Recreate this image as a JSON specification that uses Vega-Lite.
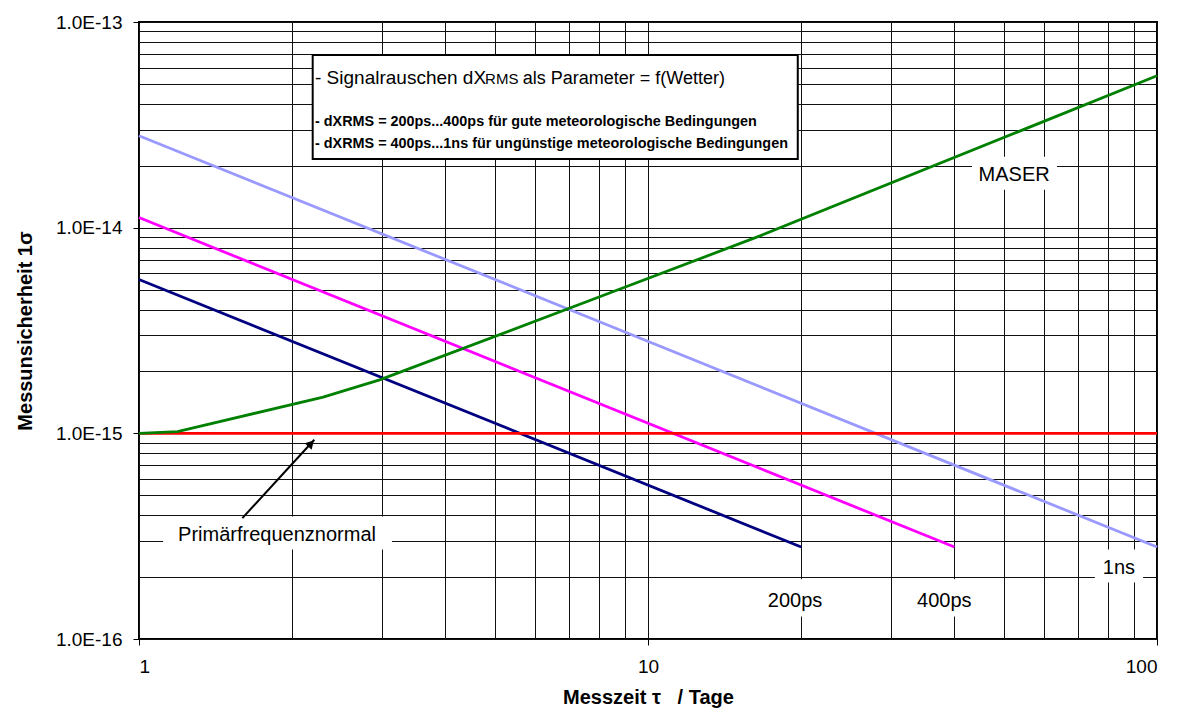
{
  "$schema": "https://vega.github.io/schema/vega-lite/v6.json",
  "width": 1018,
  "height": 617,
  "autosize": "none",
  "padding": {"left": 139, "top": 22, "right": 26, "bottom": 70},
  "background": "white",
  "config": {
    "font": "Liberation Sans",
    "view": {"stroke": "black", "strokeWidth": 2},
    "axis": {
      "grid": true,
      "gridColor": "#111111",
      "gridWidth": 1,
      "gridOpacity": 1,
      "domain": false,
      "tickColor": "black",
      "tickWidth": 1,
      "tickSize": 6,
      "labelFont": "Liberation Sans",
      "labelFontSize": 19,
      "labelColor": "black",
      "labelOverlap": false,
      "titleFont": "Liberation Sans",
      "titleFontSize": 20,
      "titleFontWeight": "bold",
      "titleColor": "black"
    }
  },
  "datasets": {
    "curves": [
      {"series": "200ps", "tau": 1, "sigma": 5.6e-15},
      {"series": "200ps", "tau": 20, "sigma": 2.8e-16},
      {"series": "400ps", "tau": 1, "sigma": 1.12e-14},
      {"series": "400ps", "tau": 40, "sigma": 2.8e-16},
      {"series": "1ns", "tau": 1, "sigma": 2.8e-14},
      {"series": "1ns", "tau": 100, "sigma": 2.8e-16},
      {"series": "Primärfrequenznormal", "tau": 1, "sigma": 1e-15},
      {"series": "Primärfrequenznormal", "tau": 100, "sigma": 1e-15},
      {"series": "MASER", "tau": 1, "sigma": 1e-15},
      {"series": "MASER", "tau": 1.19, "sigma": 1.02e-15},
      {"series": "MASER", "tau": 2.3, "sigma": 1.5e-15},
      {"series": "MASER", "tau": 2.97, "sigma": 1.82e-15},
      {"series": "MASER", "tau": 7.94, "sigma": 4.56e-15},
      {"series": "MASER", "tau": 16.6, "sigma": 9.12e-15},
      {"series": "MASER", "tau": 100, "sigma": 5.48e-14}
    ],
    "labelBg": [
      {"name": "Primärfrequenznormal", "tau": 1.115, "tau2": 3.14, "sigma": 2.72e-16, "sigma2": 3.94e-16},
      {"name": "MASER", "tau": 43.3, "tau2": 63.6, "sigma": 1.53e-14, "sigma2": 2.21e-14},
      {"name": "200ps", "tau": 16.6, "tau2": 22.8, "sigma": 1.285e-16, "sigma2": 1.95e-16},
      {"name": "400ps", "tau": 32.7, "tau2": 44.9, "sigma": 1.285e-16, "sigma2": 1.95e-16},
      {"name": "1ns", "tau": 75.5, "tau2": 93.9, "sigma": 1.88e-16, "sigma2": 2.72e-16}
    ],
    "box": [
      {"name": "legend", "tau": 2.194, "tau2": 19.69, "sigma": 2.159e-14, "sigma2": 6.916e-14}
    ],
    "labels": [
      {"text": "Primärfrequenznormal", "tau": 1.867, "sigma": 2.982e-16},
      {"text": "MASER", "tau": 52.4, "sigma": 1.688e-14},
      {"text": "200ps", "tau": 19.45, "sigma": 1.432e-16},
      {"text": "400ps", "tau": 38.2, "sigma": 1.432e-16},
      {"text": "1ns", "tau": 84.2, "sigma": 2.078e-16}
    ],
    "arrow": [
      {"i": 0, "tau": 1.596, "sigma": 3.87e-16},
      {"i": 1, "tau": 2.21, "sigma": 9.31e-16}
    ],
    "arrowHead": [
      {"tau": 2.177, "sigma": 8.93e-16}
    ]
  },
  "encoding": {
    "x": {
      "field": "tau",
      "type": "quantitative",
      "scale": {"type": "log", "domain": [1, 100], "nice": false},
      "axis": {
        "title": "Messzeit τ\u00a0\u00a0\u00a0/ Tage",
        "values": [1, 2, 3, 4, 5, 6, 7, 8, 9, 10, 20, 30, 40, 50, 60, 70, 80, 90, 100],
        "labelExpr": "abs(log(datum.value)/LN10 - round(log(datum.value)/LN10)) < 0.01 ? format(datum.value, 'd') : ''",
        "tickOpacity": {"condition": {"test": "abs(log(datum.value)/LN10 - round(log(datum.value)/LN10)) < 0.01", "value": 1}, "value": 0},
        "labelPadding": 12,
        "titlePadding": 11
      }
    },
    "y": {
      "field": "sigma",
      "type": "quantitative",
      "scale": {"type": "log", "domain": [1e-16, 1e-13], "nice": false},
      "axis": {
        "title": "Messunsicherheit 1σ",
        "values": [1e-16, 2e-16, 3e-16, 4e-16, 5e-16, 6e-16, 7e-16, 8e-16, 9e-16, 1e-15, 2e-15, 3e-15, 4e-15, 5e-15, 6e-15, 7e-15, 8e-15, 9e-15, 1e-14, 2e-14, 3e-14, 4e-14, 5e-14, 6e-14, 7e-14, 8e-14, 9e-14, 1e-13],
        "labelExpr": "abs(log(datum.value)/LN10 - round(log(datum.value)/LN10)) < 0.01 ? '1.0E' + round(log(datum.value)/LN10) : ''",
        "tickOpacity": {"condition": {"test": "abs(log(datum.value)/LN10 - round(log(datum.value)/LN10)) < 0.01", "value": 1}, "value": 0},
        "labelPadding": 11,
        "titlePadding": 20
      }
    }
  },
  "layer": [
    {
      "data": {"name": "labelBg"},
      "mark": {"type": "rect", "fill": "white", "stroke": null},
      "encoding": {
        "x2": {"field": "tau2"},
        "y2": {"field": "sigma2"}
      }
    },
    {
      "data": {"name": "box"},
      "mark": {"type": "rect", "fill": "white", "stroke": "black", "strokeWidth": 2},
      "encoding": {
        "x2": {"field": "tau2"},
        "y2": {"field": "sigma2"}
      }
    },
    {
      "data": {"name": "curves"},
      "mark": {"type": "line", "strokeWidth": 2.8},
      "encoding": {
        "color": {
          "field": "series",
          "type": "nominal",
          "scale": {
            "domain": ["200ps", "400ps", "1ns", "Primärfrequenznormal", "MASER"],
            "range": ["#000080", "#FF00FF", "#9999FF", "#FF0000", "#008000"]
          },
          "legend": null
        },
        "order": {"field": "tau", "type": "quantitative"}
      }
    },
    {
      "data": {"name": "arrow"},
      "mark": {"type": "line", "color": "black", "strokeWidth": 2},
      "encoding": {"order": {"field": "i", "type": "quantitative"}}
    },
    {
      "data": {"name": "arrowHead"},
      "mark": {"type": "point", "shape": "triangle-up", "filled": true, "color": "black", "size": 90, "angle": 43, "opacity": 1}
    },
    {
      "data": {"name": "labels"},
      "mark": {"type": "text", "fontSize": 20, "align": "center", "baseline": "alphabetic", "color": "black", "font": "Liberation Sans"},
      "encoding": {"text": {"field": "text"}}
    },
    {
      "data": {"values": [{"text": "- Signalrauschen dX", "tau": 2.217, "sigma": 5.0e-14}]},
      "mark": {"type": "text", "fontSize": 19, "align": "left", "baseline": "alphabetic", "color": "black", "font": "Liberation Sans"},
      "encoding": {"text": {"field": "text"}}
    },
    {
      "data": {"values": [{"text": "RMS", "tau": 4.785, "sigma": 5.0e-14}]},
      "mark": {"type": "text", "fontSize": 15, "align": "left", "baseline": "alphabetic", "color": "black", "font": "Liberation Sans"},
      "encoding": {"text": {"field": "text"}}
    },
    {
      "data": {"values": [{"text": "als Parameter = f(Wetter)", "tau": 5.674, "sigma": 5.0e-14}]},
      "mark": {"type": "text", "fontSize": 18, "align": "left", "baseline": "alphabetic", "color": "black", "font": "Liberation Sans"},
      "encoding": {"text": {"field": "text"}}
    },
    {
      "data": {"values": [
        {"text": "- dXRMS = 200ps...400ps für gute meteorologische Bedingungen", "tau": 2.217, "sigma": 3.125e-14},
        {"text": "- dXRMS = 400ps...1ns für ungünstige meteorologische Bedingungen", "tau": 2.217, "sigma": 2.433e-14}
      ]},
      "mark": {"type": "text", "fontSize": 14.4, "fontWeight": "bold", "align": "left", "baseline": "alphabetic", "color": "black", "font": "Liberation Sans"},
      "encoding": {"text": {"field": "text"}}
    }
  ]
}
